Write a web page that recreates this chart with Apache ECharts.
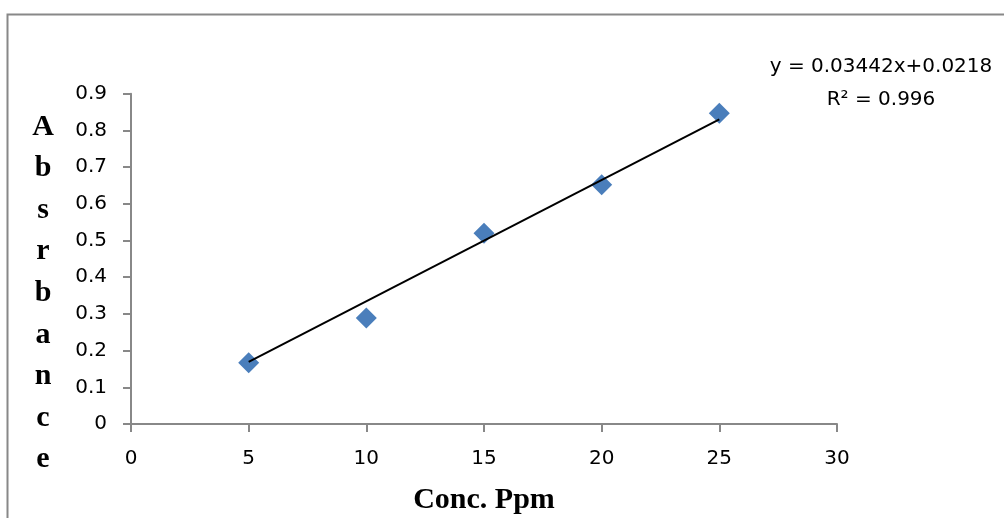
<!DOCTYPE html>
<html>
<head>
<meta charset="utf-8">
<script src="https://cdn.jsdelivr.net/npm/echarts@6/dist/echarts.min.js"></script>
<style>
  html, body { margin: 0; padding: 0; background: #fff; overflow: hidden; }
  #chart { width: 1004px; height: 518px; }
</style>
</head>
<body>
<div id="chart"></div>
<script>
// data
const concList = [5, 10, 15, 20, 25];
const absList = [0.167, 0.289, 0.520, 0.652, 0.847];
// trend line end points as drawn
const trendX = [5, 25];
const trendY = [0.169, 0.830];
const yTitle = 'Absrbance';
const xTitle = 'Conc. Ppm';
const eqText = 'y = 0.03442x+0.0218';
const r2Text = 'R² = 0.996';

const chart = echarts.init(document.getElementById('chart'));

const points = concList.map((x, i) => [x, absList[i]]);
const trend = trendX.map((x, i) => [x, trendY[i]]);

const tickFont = { fontFamily: 'DejaVu Sans', fontSize: 20, color: '#000' };

const option = {
    animation: false,
    grid: { left: 131, top: 93.7, width: 706, height: 330.3, containLabel: false, outerBoundsMode: 'none' },
    xAxis: {
        type: 'value',
        min: 0, max: 30, interval: 5,
        axisLine: { show: true, onZero: false, lineStyle: { color: '#888', width: 2 } },
        axisTick: { show: true, length: 8, lineStyle: { color: '#888', width: 2 } },
        axisLabel: Object.assign({ margin: 25 }, tickFont),
        splitLine: { show: false },
        name: xTitle,
        nameLocation: 'middle',
        nameGap: 61,
        nameTextStyle: { fontFamily: 'Liberation Serif', fontWeight: 'bold', fontSize: 30, color: '#000' }
    },
    yAxis: {
        type: 'value',
        min: 0, max: 0.9, interval: 0.1,
        axisLine: { show: true, onZero: false, lineStyle: { color: '#888', width: 2 } },
        axisTick: { show: true, length: 8, lineStyle: { color: '#888', width: 2 } },
        axisLabel: Object.assign({ margin: 24, formatter: v => String(Math.round(v * 10) / 10) }, tickFont),
        splitLine: { show: false }
    },
    graphic: [
        {
            type: 'rect',
            shape: { x: 7.5, y: 14.5, width: 1010, height: 520 },
            style: { fill: 'none', stroke: '#888', lineWidth: 2 },
            silent: true
        },
        {
            type: 'text',
            x: 43, y: 106,
            style: {
                text: yTitle.split('').join('\n'),
                fontFamily: 'Liberation Serif', fontWeight: 'bold', fontSize: 30,
                lineHeight: 41.6, fill: '#000', align: 'center', verticalAlign: 'top'
            }
        },
        {
            type: 'text',
            x: 881, y: 67,
            style: { text: eqText, fontFamily: 'DejaVu Sans', fontSize: 20, fill: '#000', align: 'center', verticalAlign: 'middle' }
        },
        {
            type: 'text',
            x: 881, y: 100,
            style: { text: r2Text, fontFamily: 'DejaVu Sans', fontSize: 20, fill: '#000', align: 'center', verticalAlign: 'middle' }
        }
    ],
    series: [
        {
            name: 'Absorbance',
            type: 'scatter',
            data: points,
            symbol: 'diamond',
            symbolSize: 21,
            itemStyle: { color: '#4a7ebb', opacity: 1 },
            z: 2
        },
        {
            name: 'Trend',
            type: 'line',
            data: trend,
            showSymbol: false,
            symbol: 'none',
            lineStyle: { color: '#000', width: 2 },
            z: 3
        }
    ]
};
chart.setOption(option);
</script>
</body>
</html>
